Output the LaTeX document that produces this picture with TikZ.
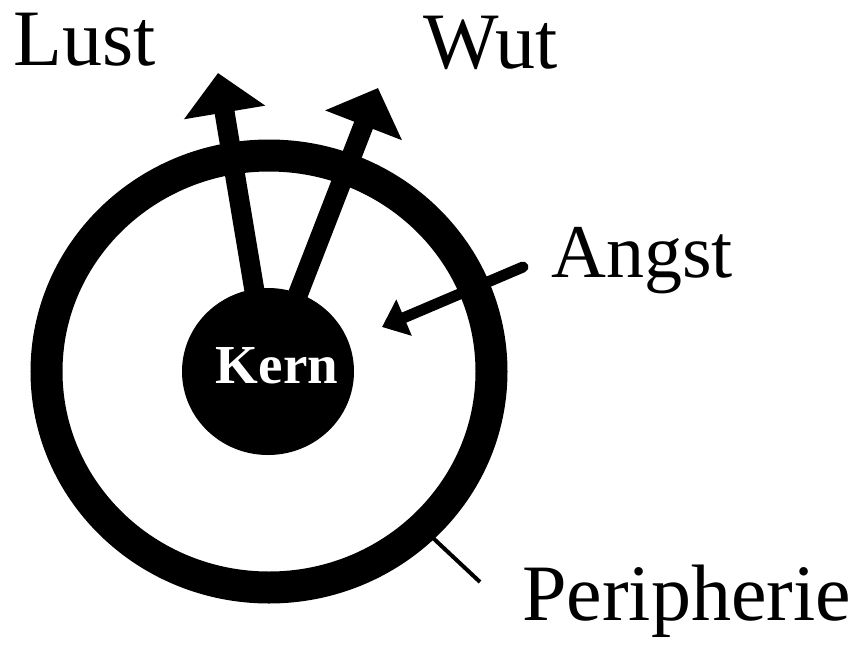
\documentclass[tikz,border=0pt]{standalone}
\usepackage{fontspec}
\setmainfont{Liberation Serif}
\usetikzlibrary{shapes.geometric,arrows.meta}
\begin{document}
\begin{tikzpicture}[x=1pt,y=-1pt,
  lbl/.style={anchor=base west,inner sep=0pt,font=\fontsize{80}{96}\selectfont},
  ringshape/.style={draw=black,ellipse,line width=32,minimum width=445,minimum height=432,inner sep=0pt},
  kernshape/.style={fill=black,ellipse,minimum width=172,minimum height=167,inner sep=0pt},
  bigarrow/.style={line width=20,-{Triangle[length=40,width=80]}},
  smallarrow/.style={line width=11,line cap=round,-{Triangle[length=24,width=38]}},
  thinline/.style={line width=4}]
\useasboundingbox (0,0) rectangle (865,646);
\fill[white] (0,0) rectangle (865,646);
\node[ringshape] (ring) at (269,371.5) {};
\coordinate (lusttip) at (218,73);
\coordinate (wuttip) at (378,88);
\draw[bigarrow] (268,371.5) -- (lusttip);
\draw[bigarrow] (268,371.5) -- (wuttip);
\node[kernshape] (kern) at (268,371.5) {};
\node[anchor=base,inner sep=0pt,text=white,font=\fontsize{55}{66}\selectfont\bfseries] (kernlabel) at (277,383) {Kern};
\coordinate (angsttail) at (523,267);
\coordinate (angsttip) at (382,327);
\draw[smallarrow] (angsttail) -- (angsttip);
\coordinate (peristart) at (433,538);
\coordinate (periend) at (480,582);
\draw[thinline] (peristart) -- (periend);
\node[lbl] (lust) at (13,65) {Lust};
\node[lbl] (wut) at (423,68) {Wut};
\node[lbl,font=\fontsize{76}{90}\selectfont] (angst) at (551,277) {Angst};
\node[lbl] (peri) at (522,620) {Peripherie};
\end{tikzpicture}
\end{document}
